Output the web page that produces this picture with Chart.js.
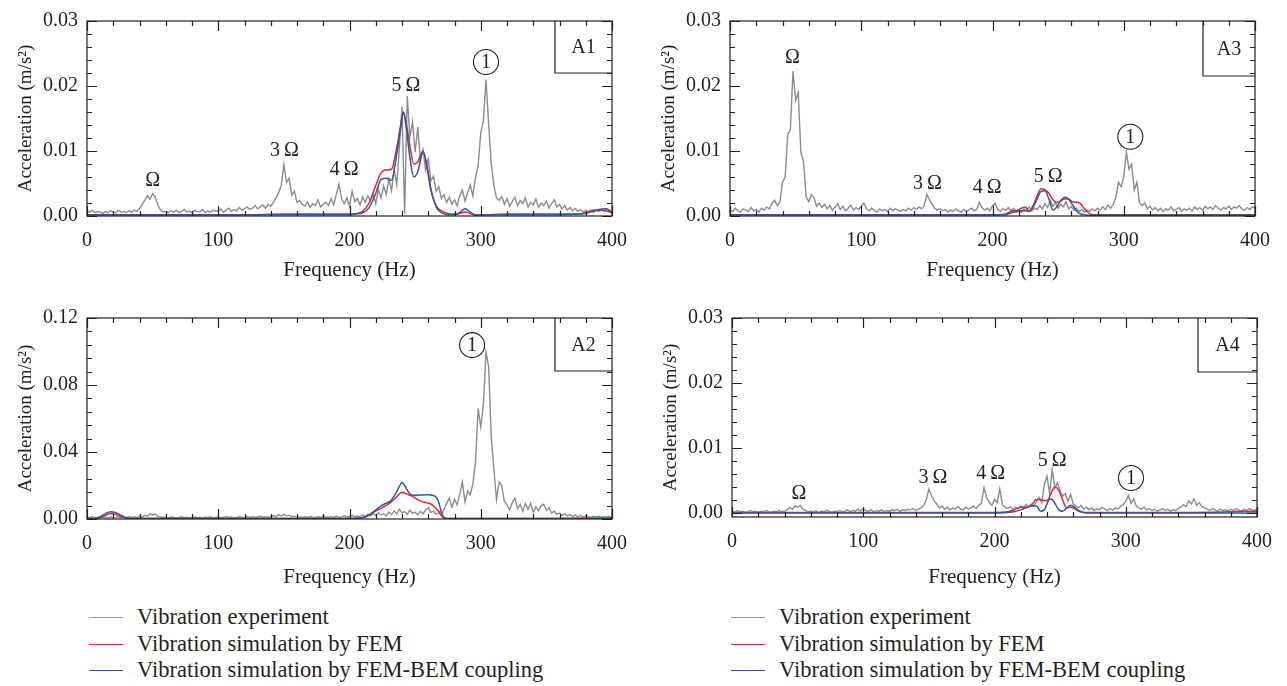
<!DOCTYPE html>
<html>
<head>
<meta charset="utf-8">
<script src="https://cdn.jsdelivr.net/npm/chart.js@4.4.1/dist/chart.umd.min.js"></script>
<style>
  body { margin: 0; background: #fff; width: 1287px; height: 686px; position: relative; overflow: hidden; font-family: "Liberation Serif", serif; color: #231f20; }
  canvas { position: absolute; }
  .legend { position: absolute; top: 604px; font-size: 22.5px; }
  .legend div { position: relative; height: 26.5px; line-height: 26.5px; padding-left: 48px; white-space: nowrap; }
  .legend span { position: absolute; left: 0; top: 13px; width: 34px; border-top: 1.5px solid; }
</style>
</head>
<body>
<canvas id="a1" width="640" height="290" style="left:0;top:0"></canvas>
<canvas id="a3" width="640" height="290" style="left:643px;top:0"></canvas>
<canvas id="a2" width="640" height="295" style="left:0;top:297px"></canvas>
<canvas id="a4" width="640" height="295" style="left:645px;top:297px"></canvas>

<div class="legend" style="left:89px">
  <div><span style="border-color:#9a9a9a"></span>Vibration experiment</div>
  <div><span style="border-color:#e8262b"></span>Vibration simulation by FEM</div>
  <div><span style="border-color:#2a5aa8"></span>Vibration simulation by FEM-BEM coupling</div>
</div>
<div class="legend" style="left:731px">
  <div><span style="border-color:#9a9a9a"></span>Vibration experiment</div>
  <div><span style="border-color:#e8262b"></span>Vibration simulation by FEM</div>
  <div><span style="border-color:#2a5aa8"></span>Vibration simulation by FEM-BEM coupling</div>
</div>

<script>
// frequency grid of the measured spectra (Hz)
var expFreq = [];
for (var f = 0; f <= 400; f += 2) expFreq.push(f);

var xTicks = [0, 100, 200, 300, 400];

// ---- A1 ----
var a1Exp = [
  .0008,.0006,.0009,.0005,.0007,.0006,.0004,.0007,.0005,.0008,
  .0006,.0005,.0009,.0006,.0007,.0005,.0008,.0006,.0009,.0007,
  .0011,.0018,.0024,.0031,.0026,.0034,.0029,.0017,.0009,.0006,
  .0007,.0005,.0008,.0006,.0009,.0005,.0007,.0010,.0006,.0008,
  .0005,.0009,.0007,.0006,.0010,.0005,.0008,.0006,.0009,.0007,
  .0008,.0011,.0006,.0009,.0012,.0007,.0010,.0008,.0013,.0009,
  .0011,.0014,.0010,.0012,.0016,.0011,.0014,.0017,.0012,.0018,
  .0015,.0021,.0028,.0036,.0047,.0079,.0052,.0058,.0032,.0038,
  .0021,.0024,.0018,.0015,.0022,.0013,.0019,.0016,.0025,.0014,
  .0018,.0021,.0016,.0027,.0017,.0034,.0049,.0026,.0019,.0028,
  .0015,.0038,.0022,.0027,.0017,.0029,.0021,.0031,.0024,.0035,
  .0019,.0041,.0028,.0046,.0033,.0057,.0039,.0072,.0048,.0105,
  .0168,.0004,.0185,.0121,.0145,.0098,.0137,.0086,.0102,.0071,
  .0088,.0054,.0061,.0038,.0045,.0027,.0033,.0021,.0029,.0018,
  .0025,.0016,.0031,.0040,.0023,.0036,.0048,.0031,.0059,.0077,
  .0128,.0146,.0210,.0141,.0080,.0047,.0028,.0024,.0030,.0018,
  .0027,.0015,.0022,.0029,.0016,.0024,.0019,.0028,.0014,.0021,
  .0017,.0026,.0013,.0020,.0016,.0023,.0012,.0019,.0025,.0014,
  .0018,.0011,.0016,.0009,.0013,.0008,.0012,.0007,.0010,.0006,
  .0009,.0005,.0008,.0006,.0009,.0007,.0010,.0008,.0011,.0009,
  .0007
];
var a1SimFreq = [0,40,80,120,150,180,200,205,210,215,220,224,228,232,236,239,241,243,246,249,252,256,259,262,266,270,275,280,284,288,292,296,300,320,340,360,375,380,385,390,395,400];
var a1Fem = [.0002,.0002,.0002,.0002,.0003,.0003,.0003,.0004,.0007,.0020,.0047,.0066,.0071,.0072,.0105,.0140,.0160,.0145,.0108,.0080,.0083,.0100,.0075,.0040,.0016,.0008,.0004,.0003,.0004,.0006,.0004,.0002,.0002,.0003,.0003,.0003,.0003,.0005,.0009,.0009,.0008,.0005];
var a1Bem = [.0002,.0002,.0002,.0002,.0002,.0002,.0002,.0003,.0005,.0013,.0035,.0056,.0058,.0055,.0095,.0135,.0160,.0140,.0090,.0060,.0068,.0099,.0078,.0042,.0014,.0005,.0002,.0002,.0005,.0011,.0006,.0001,.0002,.0002,.0002,.0002,.0003,.0004,.0007,.0010,.0011,.0006];
var a1Notes = [['Ω', 50, .0055], ['3\u2009Ω', 150.5, .0101], ['4\u2009Ω', 196, .0071], ['5\u2009Ω', 243, .0200]];
var a1Circle = [304, .0237];

// ---- A3 ----
var a3Exp = [
  .0010,.0007,.0012,.0008,.0006,.0011,.0009,.0007,.0013,.0008,
  .0010,.0006,.0012,.0009,.0014,.0011,.0019,.0024,.0016,.0021,
  .0052,.0060,.0125,.0133,.0223,.0178,.0190,.0098,.0084,.0030,
  .0022,.0033,.0028,.0015,.0020,.0013,.0018,.0011,.0016,.0009,
  .0014,.0019,.0010,.0015,.0008,.0012,.0017,.0009,.0013,.0010,
  .0015,.0020,.0011,.0008,.0012,.0009,.0006,.0011,.0008,.0010,
  .0007,.0012,.0008,.0011,.0009,.0007,.0010,.0008,.0012,.0009,
  .0013,.0010,.0014,.0011,.0016,.0033,.0025,.0018,.0012,.0009,
  .0011,.0008,.0010,.0006,.0009,.0007,.0011,.0008,.0006,.0010,
  .0007,.0009,.0012,.0008,.0010,.0021,.0013,.0009,.0012,.0008,
  .0016,.0019,.0010,.0007,.0011,.0009,.0013,.0008,.0012,.0007,
  .0010,.0006,.0011,.0009,.0014,.0008,.0012,.0010,.0016,.0011,
  .0019,.0013,.0024,.0015,.0021,.0012,.0018,.0014,.0022,.0011,
  .0015,.0009,.0012,.0007,.0010,.0006,.0009,.0007,.0011,.0008,
  .0012,.0009,.0014,.0010,.0017,.0012,.0018,.0029,.0052,.0045,
  .0061,.0098,.0072,.0080,.0040,.0052,.0021,.0016,.0020,.0011,
  .0015,.0009,.0013,.0008,.0012,.0007,.0011,.0009,.0014,.0008,
  .0010,.0013,.0007,.0011,.0009,.0012,.0008,.0014,.0010,.0013,
  .0009,.0015,.0011,.0014,.0010,.0016,.0012,.0009,.0013,.0011,
  .0015,.0010,.0014,.0012,.0016,.0011,.0009,.0013,.0010,.0014,
  .0012
];
var a3SimFreq = [0,50,100,150,200,205,210,213,216,219,222,225,228,231,234,237,240,243,246,249,252,255,258,261,264,267,270,273,276,280,300,350,400];
var a3Fem = [.0002,.0002,.0002,.0002,.0002,.0002,.0003,.0006,.0008,.0009,.0012,.0014,.0008,.0016,.0031,.0042,.0040,.0035,.0025,.0021,.0023,.0026,.0026,.0022,.0021,.0019,.0011,.0005,.0002,.0002,.0002,.0002,.0002];
var a3Bem = [.0002,.0002,.0002,.0002,.0002,.0002,.0002,.0004,.0006,.0007,.0008,.0008,.0007,.0014,.0026,.0038,.0039,.0026,.0009,.0014,.0024,.0029,.0026,.0017,.0008,.0003,.0002,.0001,.0001,.0001,.0001,.0001,.0001];
var a3Notes = [['Ω', 47.6, .0243], ['3\u2009Ω', 150.5, .0049], ['4\u2009Ω', 196, .0043], ['5\u2009Ω', 242.5, .0061]];
var a3Circle = [305, .0122];

// ---- A2 ----
var a2Exp = [
  .0012,.0008,.0014,.0010,.0007,.0013,.0009,.0011,.0006,.0012,
  .0008,.0010,.0013,.0007,.0011,.0009,.0014,.0008,.0012,.0010,
  .0015,.0011,.0022,.0017,.0031,.0024,.0029,.0016,.0012,.0009,
  .0011,.0007,.0012,.0009,.0006,.0010,.0013,.0008,.0011,.0007,
  .0009,.0012,.0008,.0010,.0006,.0011,.0009,.0013,.0007,.0010,
  .0012,.0008,.0011,.0014,.0009,.0012,.0007,.0010,.0013,.0009,
  .0011,.0015,.0010,.0013,.0009,.0012,.0016,.0011,.0014,.0010,
  .0016,.0021,.0013,.0025,.0018,.0028,.0019,.0023,.0014,.0017,
  .0011,.0014,.0010,.0013,.0009,.0015,.0011,.0008,.0013,.0010,
  .0016,.0012,.0009,.0014,.0011,.0017,.0010,.0013,.0019,.0012,
  .0015,.0022,.0014,.0018,.0012,.0024,.0016,.0029,.0019,.0033,
  .0021,.0038,.0025,.0031,.0018,.0042,.0027,.0049,.0030,.0058,
  .0036,.0044,.0028,.0052,.0033,.0041,.0026,.0046,.0031,.0055,
  .0068,.0039,.0047,.0029,.0036,.0024,.0058,.0092,.0125,.0071,
  .0118,.0084,.0150,.0221,.0102,.0168,.0145,.0210,.0340,.0660,
  .0550,.0680,.0995,.0910,.0490,.0300,.0116,.0220,.0200,.0105,
  .0085,.0055,.0098,.0125,.0062,.0088,.0045,.0092,.0058,.0095,
  .0040,.0072,.0049,.0080,.0088,.0052,.0068,.0035,.0047,.0028,
  .0036,.0022,.0031,.0018,.0026,.0015,.0024,.0013,.0021,.0011,
  .0019,.0014,.0010,.0017,.0012,.0016,.0009,.0014,.0011,.0015,
  .0010
];
var a2SimFreq = [0,5,10,14,18,21,25,30,35,40,100,150,190,200,205,210,215,219,223,227,231,235,238,240,242,245,248,251,254,257,260,263,266,268,270,272,275,280,300,350,390,400];
var a2Fem = [.0003,.0003,.0008,.0022,.0033,.0030,.0017,.0005,.0003,.0003,.0003,.0003,.0003,.0003,.0004,.0008,.0022,.0042,.0060,.0077,.0098,.0125,.0150,.0160,.0155,.0145,.0135,.0120,.0108,.0100,.0095,.0085,.0062,.0045,.0020,.0007,.0003,.0003,.0003,.0003,.0006,.0006];
var a2Bem = [.0003,.0003,.0012,.0032,.0044,.0040,.0026,.0007,.0003,.0003,.0003,.0003,.0003,.0003,.0004,.0009,.0025,.0048,.0072,.0091,.0105,.0150,.0195,.0218,.0200,.0160,.0142,.0142,.0143,.0144,.0145,.0142,.0130,.0100,.0039,.0010,.0003,.0003,.0003,.0003,.0003,.0003];
var a2Notes = [];
var a2Circle = [293.4, .1038];

// ---- A4 ----
var a4Exp = [
  .0003,.0001,.0004,.0002,.0003,.0001,.0002,.0004,.0002,.0003,
  .0001,.0003,.0002,.0004,.0002,.0001,.0003,.0002,.0004,.0002,
  .0003,.0005,.0008,.0006,.0011,.0009,.0012,.0006,.0004,.0002,
  .0003,.0002,.0004,.0001,.0003,.0002,.0004,.0003,.0001,.0003,
  .0002,.0004,.0002,.0003,.0005,.0002,.0004,.0003,.0006,.0003,
  .0007,.0004,.0003,.0005,.0002,.0004,.0003,.0005,.0002,.0004,
  .0003,.0005,.0004,.0006,.0003,.0005,.0004,.0006,.0005,.0007,
  .0004,.0006,.0008,.0012,.0020,.0037,.0027,.0019,.0014,.0008,
  .0011,.0006,.0009,.0005,.0008,.0006,.0010,.0007,.0005,.0009,
  .0006,.0008,.0011,.0007,.0012,.0015,.0039,.0024,.0017,.0012,
  .0021,.0016,.0037,.0013,.0009,.0007,.0010,.0006,.0009,.0007,
  .0011,.0008,.0013,.0009,.0014,.0011,.0018,.0024,.0016,.0044,
  .0057,.0030,.0067,.0038,.0047,.0034,.0026,.0030,.0018,.0029,
  .0014,.0011,.0008,.0012,.0006,.0009,.0005,.0008,.0004,.0007,
  .0005,.0009,.0006,.0004,.0007,.0005,.0008,.0006,.0010,.0013,
  .0018,.0027,.0015,.0022,.0011,.0008,.0006,.0009,.0005,.0007,
  .0004,.0006,.0003,.0005,.0007,.0004,.0006,.0003,.0005,.0004,
  .0007,.0009,.0013,.0010,.0019,.0014,.0022,.0012,.0016,.0010,
  .0008,.0006,.0004,.0007,.0005,.0003,.0006,.0004,.0005,.0003,
  .0006,.0004,.0007,.0005,.0003,.0006,.0004,.0007,.0005,.0004,
  .0006
];
var a4SimFreq = [0,50,100,150,200,210,215,220,224,228,232,235,238,241,243,246,249,252,255,258,261,264,268,272,280,300,350,380,390,400];
var a4Fem = [.0001,.0001,.0001,.0001,.0001,.0002,.0005,.0009,.0009,.0012,.0021,.0021,.0019,.0021,.0030,.0040,.0035,.0020,.0008,.0009,.0007,.0003,.0001,.0001,.0001,.0001,.0001,.0002,.0003,.0003];
var a4Bem = [0,0,0,0,0,.0001,.0002,.0005,.0008,.0011,.0011,.0003,.0005,.0019,.0022,.0015,.0005,.0003,.0008,.0012,.0009,.0004,.0001,0,0,0,0,0,0,0];
var a4Notes = [['Ω', 51, .0029], ['3\u2009Ω', 153, .0055], ['4\u2009Ω', 197, .0060], ['5\u2009Ω', 244, .0080]];
var a4Circle = [304, .0054];

var GRAY = '#8c8c8c', RED = '#e8262b', BLUE = '#2a5aa8', INK = '#231f20';
var SERIF = '"Liberation Serif", serif';
var TICK_FONT = { family: SERIF, size: 20 };
var XTITLE_FONT = { family: SERIF, size: 21 };
var YTITLE_FONT = { family: SERIF, size: 19 };

function pairs(xs, ys) {
  return xs.map(function (x, i) { return { x: x, y: ys[i] }; });
}

// frame with inward ticks, label box and peak notes
var framePlugin = {
  id: 'frame',
  afterDatasetsDraw: function (chart, args, o) {
    var ctx = chart.ctx, a = chart.chartArea, x = chart.scales.x, y = chart.scales.y;
    ctx.save();
    ctx.strokeStyle = INK;
    ctx.lineWidth = 1.2;
    ctx.strokeRect(a.left, a.top, a.right - a.left, a.bottom - a.top);
    ctx.beginPath();
    for (var f = 0; f <= 400; f += 20) {
      var px = Math.round(x.getPixelForValue(f)) + 0.5;
      var len = f % 100 === 0 ? 10 : 5;
      ctx.moveTo(px, a.bottom); ctx.lineTo(px, a.bottom - len);
      ctx.moveTo(px, a.top); ctx.lineTo(px, a.top + len);
    }
    for (var k = 0; k * o.yMinor <= o.yMax + 1e-9; k++) {
      var py = Math.round(y.getPixelForValue(k * o.yMinor)) + 0.5;
      var l2 = k % 5 === 0 ? 10 : 5;
      ctx.moveTo(a.left, py); ctx.lineTo(a.left + l2, py);
      ctx.moveTo(a.right, py); ctx.lineTo(a.right - l2, py);
    }
    // name box
    var bx = a.right - o.boxW, bh = o.boxH;
    ctx.moveTo(bx, a.top); ctx.lineTo(bx, a.top + bh); ctx.lineTo(a.right, a.top + bh);
    ctx.stroke();

    ctx.fillStyle = INK;
    ctx.font = '20px ' + SERIF;
    ctx.textAlign = 'center';
    ctx.textBaseline = 'middle';
    ctx.fillText(o.name, bx + o.boxW / 2, a.top + bh / 2 + 1);
    o.notes.forEach(function (n) {
      ctx.fillText(n[0], x.getPixelForValue(n[1]), y.getPixelForValue(n[2]));
    });
    var cx = x.getPixelForValue(o.circle[0]), cy = y.getPixelForValue(o.circle[1]);
    ctx.beginPath();
    ctx.lineWidth = 1.1;
    ctx.arc(cx, cy, 12.5, 0, Math.PI * 2);
    ctx.stroke();
    ctx.fillText('1', cx, cy + 1);
    ctx.restore();
  }
};

function makeChart(id, p) {
  new Chart(document.getElementById(id), {
    type: 'line',
    data: {
      datasets: [
        { label: 'Vibration simulation by FEM-BEM coupling', data: pairs(p.simFreq, p.bem), borderColor: BLUE, borderWidth: 1.5, pointRadius: 0, cubicInterpolationMode: 'monotone', order: 1 },
        { label: 'Vibration simulation by FEM', data: pairs(p.simFreq, p.fem), borderColor: RED, borderWidth: 1.5, pointRadius: 0, cubicInterpolationMode: 'monotone', order: 2 },
        { label: 'Vibration experiment', data: pairs(expFreq, p.exp), borderColor: GRAY, borderWidth: 1.4, pointRadius: 0, tension: 0, order: 3 }
      ]
    },
    options: {
      responsive: false,
      animation: false,
      events: [],
      layout: { padding: { top: p.top, right: 24, left: 0, bottom: 0 } },
      plugins: {
        legend: { display: false },
        tooltip: { enabled: false },
        frame: { name: p.name, notes: p.notes, circle: p.circle, yMinor: p.yMinor, yMax: p.yMax, boxW: p.boxW, boxH: p.boxH }
      },
      scales: {
        x: {
          type: 'linear', min: 0, max: 400,
          afterFit: function (s) { s.height = p.xh; },
          afterBuildTicks: function (s) { s.ticks = xTicks.map(function (v) { return { value: v }; }); },
          grid: { display: false, drawTicks: false },
          border: { display: false },
          ticks: { padding: 13, color: INK, font: TICK_FONT, maxRotation: 0 },
          title: { display: true, text: 'Frequency (Hz)', color: INK, font: XTITLE_FONT, padding: { top: 0, bottom: p.tpad } }
        },
        y: {
          min: p.yMin, max: p.yMax,
          afterFit: function (s) { s.width = 87; },
          afterBuildTicks: function (s) { s.ticks = p.yTicks.map(function (v) { return { value: v }; }); },
          grid: { display: false, drawTicks: false },
          border: { display: false },
          ticks: { padding: 9, color: INK, font: TICK_FONT, callback: function (v) { return Number(v).toFixed(2); } },
          title: { display: true, text: 'Acceleration (m/s²)', color: INK, font: YTITLE_FONT, padding: { top: 14.6, bottom: 0 } }
        }
      }
    },
    plugins: [framePlugin]
  });
}

makeChart('a1', { name: 'A1', exp: a1Exp, simFreq: a1SimFreq, fem: a1Fem, bem: a1Bem, notes: a1Notes, circle: a1Circle,
  yMin: 0, yMax: 0.03, yMinor: 0.002, yTicks: [0, 0.01, 0.02, 0.03], top: 15, xh: 74, tpad: 7.4, boxW: 57, boxH: 52 });
makeChart('a3', { name: 'A3', exp: a3Exp, simFreq: a3SimFreq, fem: a3Fem, bem: a3Bem, notes: a3Notes, circle: a3Circle,
  yMin: 0, yMax: 0.03, yMinor: 0.002, yTicks: [0, 0.01, 0.02, 0.03], top: 15, xh: 74, tpad: 7.4, boxW: 52, boxH: 55 });
makeChart('a2', { name: 'A2', exp: a2Exp, simFreq: a2SimFreq, fem: a2Fem, bem: a2Bem, notes: a2Notes, circle: a2Circle,
  yMin: 0, yMax: 0.12, yMinor: 0.008, yTicks: [0, 0.04, 0.08, 0.12], top: 15, xh: 73, tpad: 2.4, boxW: 57, boxH: 53 });
makeChart('a4', { name: 'A4', exp: a4Exp, simFreq: a4SimFreq, fem: a4Fem, bem: a4Bem, notes: a4Notes, circle: a4Circle,
  yMin: -0.0006, yMax: 0.03, yMinor: 0.002, yTicks: [0, 0.01, 0.02, 0.03], top: 15, xh: 75, tpad: 2.4, boxW: 59, boxH: 54 });
</script>
</body>
</html>
